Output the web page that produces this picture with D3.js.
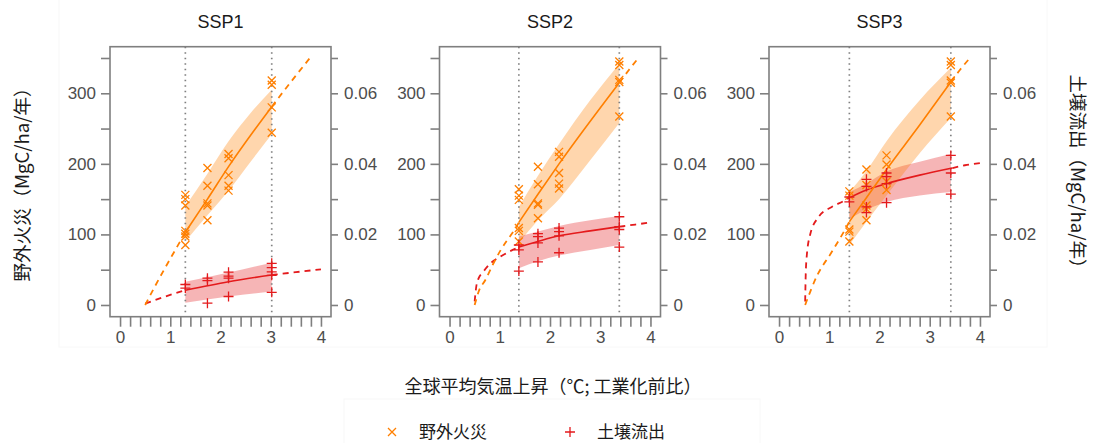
<!DOCTYPE html>
<html lang="ja">
<head>
  <meta charset="utf-8">
  <title></title>
  <script src="https://d3js.org/d3.v7.min.js"></script>
</head>
<style>
  body { margin: 0; background: #fff; }
  text { font-family: "Liberation Sans", Arial, "Noto Sans CJK JP", sans-serif; }
  .cjk { font-family: "Noto Sans CJK JP", "Liberation Sans", sans-serif; }
</style>
<body>
<div id="my_dataviz"></div>
<script>
// --- data ---
var scenarios = ["SSP1", "SSP2", "SSP3"];
// warming levels of the two periods (dotted lines)
var periodT = [[1.3, 3.02], [1.38, 3.38], [1.4, 3.42]];

var leftTicks = [0, 50, 100, 150, 200, 250, 300, 350];
var leftLabels = [0, 100, 200, 300];
var rightTicks = [0, 0.01, 0.02, 0.03, 0.04, 0.05, 0.06, 0.07];
var rightLabels = [0, 0.02, 0.04, 0.06];
var xLabels = [0, 1, 2, 3, 4];

// wildfire (left axis, MgC/ha/yr): points [T, value]
var fireSSP1 = [[1.3,156],[1.3,150],[1.3,141],[1.3,105],[1.3,101],[1.3,97],[1.3,85],
  [1.74,194],[1.74,169],[1.74,144],[1.74,141],[1.74,120],
  [2.16,214],[2.16,208],[2.16,184],[2.16,169],[2.16,162],
  [3.02,318],[3.02,312],[3.02,280],[3.02,244]];
var fireSSP2 = [[1.38,164],[1.38,155],[1.38,149],[1.38,109],[1.38,105],[1.38,90],
  [1.76,196],[1.76,171],[1.76,144],[1.76,142],[1.76,123],
  [2.18,217],[2.18,210],[2.18,187],[2.18,172],[2.18,165],
  [3.38,345],[3.38,340],[3.38,319],[3.38,316],[3.38,267]];
var fireSSP3 = [[1.4,161],[1.4,155],[1.4,107],[1.4,104],[1.4,90],
  [1.74,192],[1.74,170],[1.74,141],[1.74,136],[1.74,120],
  [2.14,212],[2.14,199],[2.14,175],[2.14,163],
  [3.42,345],[3.42,340],[3.42,318],[3.42,315],[3.42,267]];

// wildfire fitted curve (solid), extrapolations (dashed), band [T, lo, hi]
var fireFit = [
  [[1.3,103],[1.74,150],[2.16,196],[3.02,281]],
  [[1.38,117],[1.76,157],[2.18,200],[3.38,315]],
  [[1.4,118],[1.74,152],[2.14,192],[2.8,255],[3.42,316]]];
var fireLow = [
  [[0.5,0],[0.7,27],[0.9,53],[1.1,78],[1.3,103]],
  [[0.5,0],[0.59,21],[0.71,35],[0.86,57],[1.02,78],[1.16,93],[1.29,106],[1.38,117]],
  [[0.52,0],[0.76,42],[1.03,73],[1.26,100],[1.4,118]]];
var fireHigh = [
  [[3.02,281],[3.4,316],[3.78,350]],
  [[3.38,315],[3.57,333],[3.76,350]],
  [[3.42,316],[3.6,333],[3.8,350]]];
var fireBand = [
  [[1.3,90,140],[1.74,127,186],[2.16,162,232],[2.6,203,272],[3.02,242,305]],
  [[1.38,88,139],[1.76,120,183],[2.18,150,228],[2.8,205,290],[3.38,258,342]],
  [[1.4,85,160],[1.74,118,190],[2.14,155,232],[2.8,215,290],[3.42,265,336]]];

// soil runoff (right axis, MgC/ha/yr)
var soilSSP1 = [[1.3,0.0058],[1.3,0.0048],
  [1.74,0.0076],[1.74,0.0069],[1.74,0.0005],
  [2.16,0.0093],[2.16,0.0082],[2.16,0.0076],[2.16,0.0024],
  [3.02,0.0118],[3.02,0.0106],[3.02,0.0094],[3.02,0.0084],[3.02,0.0036]];
var soilSSP2 = [[1.38,0.017],[1.38,0.0156],[1.38,0.0096],
  [1.76,0.0202],[1.76,0.0194],[1.76,0.0176],[1.76,0.0122],
  [2.18,0.0218],[2.18,0.0208],[2.18,0.0196],[2.18,0.0148],
  [3.38,0.025],[3.38,0.0222],[3.38,0.0214],[3.38,0.0164]];
var soilSSP3 = [[1.4,0.0306],[1.4,0.0292],
  [1.74,0.0356],[1.74,0.0336],[1.74,0.0278],[1.74,0.0262],
  [2.14,0.0374],[2.14,0.0364],[2.14,0.0344],[2.14,0.029],
  [3.42,0.0424],[3.42,0.0374],[3.42,0.0314]];

var soilFit = [
  [[1.3,0.0042],[2.16,0.0066],[3.02,0.0085]],
  [[1.38,0.0164],[1.76,0.018],[2.18,0.0196],[2.8,0.021],[3.38,0.0222]],
  [[1.4,0.0304],[1.74,0.0326],[2.14,0.0344],[2.8,0.0368],[3.45,0.0388]]];
var soilLow = [
  [[0.5,0.0004],[0.9,0.0024],[1.3,0.0042]],
  [[0.5,0.001],[0.53,0.005],[0.58,0.0076],[0.66,0.0092],[0.8,0.0116],[1.0,0.0136],[1.2,0.0152],[1.38,0.0164]],
  [[0.52,0.001],[0.53,0.008],[0.55,0.0136],[0.62,0.02],[0.78,0.0248],[1.05,0.0278],[1.28,0.0294],[1.4,0.0304]]];
var soilHigh = [
  [[3.02,0.0085],[3.5,0.0093],[4.0,0.0101]],
  [[3.38,0.0222],[3.7,0.0228],[4.0,0.0234]],
  [[3.45,0.0388],[3.7,0.0396],[4.0,0.0402]]];
var soilBand = [
  [[1.3,0.0006,0.0066],[2.16,0.0024,0.0092],[3.02,0.0038,0.012]],
  [[1.38,0.0104,0.0194],[1.76,0.0124,0.0208],[2.18,0.014,0.0224],[2.8,0.0156,0.024],[3.38,0.017,0.0252]],
  [[1.4,0.0244,0.032],[1.74,0.027,0.0344],[2.14,0.0292,0.0378],[2.8,0.031,0.0406],[3.42,0.032,0.0428]]];

var firePts = [fireSSP1, fireSSP2, fireSSP3];
var soilPts = [soilSSP1, soilSSP2, soilSSP3];

var orange = "#ff7f00", red = "#e41a1c", axisCol = "#7f7f7f", tickText = "#4d4d4d";

function drawChart()
{
  var svg = d3.select("#my_dataviz").append("svg")
    .attr("width", 1093).attr("height", 443);

  // faint panel background frames
  svg.append("rect").attr("x", 59).attr("y", -1).attr("width", 988).attr("height", 348)
    .attr("fill", "none").attr("stroke", "#f8f8f8");
  svg.append("rect").attr("x", 344).attr("y", 399).attr("width", 416).attr("height", 60)
    .attr("fill", "none").attr("stroke", "#f8f8f8");

  var panelLeft = [110, 439.5, 769], pw = 221, top = 46.7, bottom = 316.7;
  var y = d3.scaleLinear().domain([-16.6, 366]).range([bottom, top]);
  var y2 = d3.scaleLinear().domain([-16.6 / 5000, 366 / 5000]).range([bottom, top]);

  scenarios.forEach(function(name, i)
  {
    var x0 = panelLeft[i];
    var x = d3.scaleLinear().domain([-0.2, 4.2]).range([x0, x0 + pw]);
    var g = svg.append("g");

    // title
    g.append("text").attr("x", x0 + pw / 2).attr("y", 28).attr("text-anchor", "middle")
      .attr("font-size", 18).attr("fill", "#1a1a1a").text(name);

    var areaF = d3.area().curve(d3.curveMonotoneX)
      .x(function(d) { return x(d[0]); }).y0(function(d) { return y(d[1]); }).y1(function(d) { return y(d[2]); });
    var areaS = d3.area().curve(d3.curveMonotoneX)
      .x(function(d) { return x(d[0]); }).y0(function(d) { return y2(d[1]); }).y1(function(d) { return y2(d[2]); });
    var lineF = d3.line().curve(d3.curveMonotoneX)
      .x(function(d) { return x(d[0]); }).y(function(d) { return y(d[1]); });
    var lineS = d3.line().curve(d3.curveMonotoneX)
      .x(function(d) { return x(d[0]); }).y(function(d) { return y2(d[1]); });

    // bands
    g.append("path").attr("d", areaS(soilBand[i])).attr("fill", red).attr("fill-opacity", 0.32);
    g.append("path").attr("d", areaF(fireBand[i])).attr("fill", orange).attr("fill-opacity", 0.32);

    // dotted period lines
    periodT[i].forEach(function(t)
    {
      g.append("line").attr("x1", x(t)).attr("x2", x(t)).attr("y1", top).attr("y2", bottom)
        .attr("stroke", "#808080").attr("stroke-width", 1.7).attr("stroke-dasharray", "1.5,4");
    });

    // dashed extrapolations
    [soilLow[i], soilHigh[i]].forEach(function(d)
    {
      g.append("path").attr("d", lineS(d)).attr("fill", "none").attr("stroke", red)
        .attr("stroke-width", 1.8).attr("stroke-dasharray", "6,5");
    });
    [fireLow[i], fireHigh[i]].forEach(function(d)
    {
      g.append("path").attr("d", lineF(d)).attr("fill", "none").attr("stroke", orange)
        .attr("stroke-width", 1.8).attr("stroke-dasharray", "6,5");
    });

    // fitted lines
    g.append("path").attr("d", lineS(soilFit[i])).attr("fill", "none").attr("stroke", red).attr("stroke-width", 1.6);
    g.append("path").attr("d", lineF(fireFit[i])).attr("fill", "none").attr("stroke", orange).attr("stroke-width", 1.6);

    // points
    g.selectAll(".fire").data(firePts[i]).enter().append("path")
      .attr("transform", function(d) { return "translate(" + x(d[0]) + "," + y(d[1]) + ")"; })
      .attr("d", "M-4,-4L4,4M-4,4L4,-4").attr("stroke", orange).attr("stroke-width", 1.3).attr("fill", "none");
    g.selectAll(".soil").data(soilPts[i]).enter().append("path")
      .attr("transform", function(d) { return "translate(" + x(d[0]) + "," + y2(d[1]) + ")"; })
      .attr("d", "M-5,0H5M0,-5V5").attr("stroke", red).attr("stroke-width", 1.3).attr("fill", "none");

    // box
    g.append("rect").attr("x", x0).attr("y", top).attr("width", pw).attr("height", bottom - top)
      .attr("fill", "none").attr("stroke", axisCol).attr("stroke-width", 1.6);

    // left axis
    var la = g.append("g").attr("transform", "translate(" + x0 + ",0)")
      .call(d3.axisLeft(y).tickValues(leftTicks).tickSize(9).tickFormat(function(d) { return leftLabels.indexOf(d) >= 0 ? d : ""; }).tickPadding(5));
    // right axis
    var ra = g.append("g").attr("transform", "translate(" + (x0 + pw) + ",0)")
      .call(d3.axisRight(y2).tickValues(rightTicks).tickSize(7).tickFormat(function(d) { return rightLabels.indexOf(d) >= 0 ? d3.format("~g")(d) : ""; }).tickPadding(6));
    // bottom axis: minor ticks every 0.2
    var xt = d3.range(0, 21).map(function(k) { return k / 5; });
    var ba = g.append("g").attr("transform", "translate(0," + bottom + ")")
      .call(d3.axisBottom(x).tickValues(xt).tickSize(10).tickFormat(function(d) { return xLabels.indexOf(Math.round(d * 1000) / 1000) >= 0 ? d : ""; }).tickPadding(4));

    [la, ra, ba].forEach(function(a)
    {
      a.select(".domain").remove();
      a.selectAll("line").attr("stroke", axisCol).attr("stroke-width", 1.6);
      a.selectAll("text").attr("font-size", 17).attr("fill", tickText)
        .attr("font-family", "Liberation Sans, Arial, sans-serif");
    });
  });

  // axis titles
  svg.append("text").attr("class", "cjk").attr("transform", "translate(29,180) rotate(-90)")
    .attr("text-anchor", "middle").attr("font-size", 18.5).attr("fill", "#1a1a1a").text("野外火災（MgC/ha/年）");
  svg.append("text").attr("class", "cjk").attr("transform", "translate(1071,176) rotate(90)")
    .attr("text-anchor", "middle").attr("font-size", 18.5).attr("fill", "#1a1a1a").text("土壌流出（MgC/ha/年）");
  svg.append("text").attr("class", "cjk").attr("x", 553).attr("y", 393)
    .attr("text-anchor", "middle").attr("font-size", 18).attr("fill", "#1a1a1a").text("全球平均気温上昇（℃; 工業化前比）");

  // legend
  var lg = svg.append("g");
  lg.append("path").attr("transform", "translate(392,432)").attr("d", "M-4,-4L4,4M-4,4L4,-4")
    .attr("stroke", orange).attr("stroke-width", 1.3).attr("fill", "none");
  lg.append("text").attr("class", "cjk").attr("x", 419).attr("y", 438).attr("font-size", 17).attr("fill", "#1a1a1a").text("野外火災");
  lg.append("path").attr("transform", "translate(570,432)").attr("d", "M-5,0H5M0,-5V5")
    .attr("stroke", red).attr("stroke-width", 1.3).attr("fill", "none");
  lg.append("text").attr("class", "cjk").attr("x", 597).attr("y", 438).attr("font-size", 17).attr("fill", "#1a1a1a").text("土壌流出");
}

drawChart();
</script>
</body>
</html>
